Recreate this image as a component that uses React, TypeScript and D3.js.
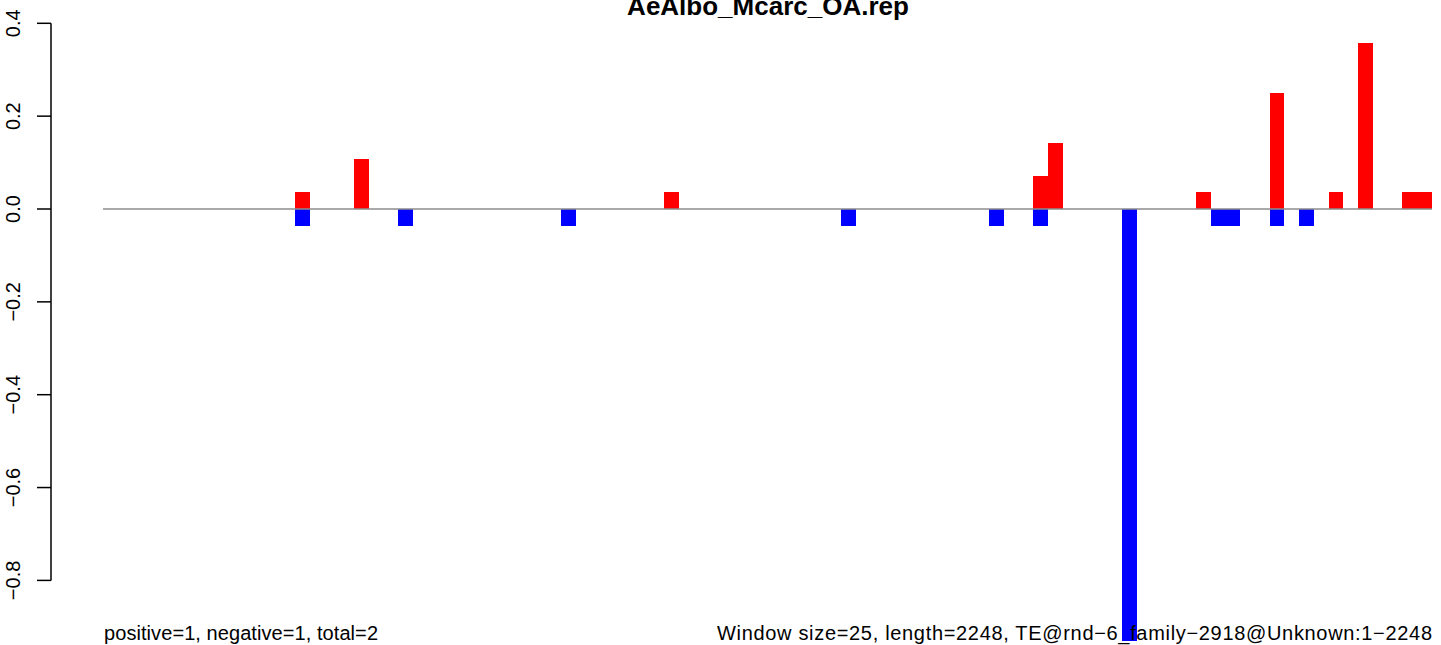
import React from "react";
import * as d3 from "d3";

const title = "AeAlbo_Mcarc_OA.rep";
const leftNote = "positive=1, negative=1, total=2";
const rightNote = "Window size=25, length=2248, TE@rnd\u22126_family\u22122918@Unknown:1\u22122248";
const windowCount = 90;
const yTicks = [0.4, 0.2, 0.0, -0.2, -0.4, -0.6, -0.8];

const posWindows = [13, 17, 38, 63, 64, 74, 79, 83, 85, 88, 89];
const posValues = [0.036, 0.107, 0.036, 0.071, 0.143, 0.036, 0.25, 0.036, 0.357, 0.036, 0.036];
const negWindows = [13, 20, 31, 50, 60, 63, 69, 75, 76, 79, 81];
const negValues = [-0.036, -0.036, -0.036, -0.036, -0.036, -0.036, -0.93, -0.036, -0.036, -0.036, -0.036];

const W = 1441;
const H = 645;
const FONT = "'Liberation Sans', Arial, Helvetica, sans-serif";

export default function App() {
  const x = d3.scaleLinear().domain([0, windowCount]).range([103, 1432]);
  const y = d3.scaleLinear().domain([-0.8, 0.4]).range([580.4, 23.3]);
  const bw = x(1) - x(0);
  const fmt = (v: number) => d3.format(".1f")(v).replace("-", "\u2212");

  const bars = [
    ...posWindows.map((w, i) => ({ w, v: posValues[i], c: "#FF0000" })),
    ...negWindows.map((w, i) => ({ w, v: negValues[i], c: "#0000FF" })),
  ];

  return (
    <svg
      width={W}
      height={H}
      style={{ position: "absolute", left: 0, top: 0, background: "#fff" }}
      fontFamily={FONT}
    >
      <rect x={0} y={0} width={W} height={H} fill="#fff" />
      {bars.map((b, i) => (
        <rect
          key={i}
          x={x(b.w)}
          y={Math.min(y(0), y(b.v))}
          width={bw}
          height={Math.abs(y(b.v) - y(0))}
          fill={b.c}
          shapeRendering="crispEdges"
        />
      ))}
      <line x1={x(0)} x2={x(windowCount)} y1={y(0)} y2={y(0)} stroke="#8c8c8c" strokeWidth={1.5} />
      {/* y axis */}
      <line x1={51} x2={51} y1={y(0.4)} y2={y(-0.8)} stroke="#000" strokeWidth={1.5} />
      {yTicks.map((t) => (
        <g key={t}>
          <line x1={37} x2={51} y1={y(t)} y2={y(t)} stroke="#000" strokeWidth={1.5} />
          <text
            transform={`translate(20,${y(t)}) rotate(-90)`}
            textAnchor="middle"
            fontSize={20}
            fill="#000"
          >
            {fmt(t)}
          </text>
        </g>
      ))}
      <text x={768} y={15} textAnchor="middle" fontSize={26} fontWeight="bold" fill="#000">
        {title}
      </text>
      <text x={104} y={640} fontSize={20} fill="#000" textLength={274} lengthAdjust="spacing">
        {leftNote}
      </text>
      <text x={717} y={640} fontSize={20} fill="#000" textLength={715} lengthAdjust="spacing">
        {rightNote}
      </text>
    </svg>
  );
}
